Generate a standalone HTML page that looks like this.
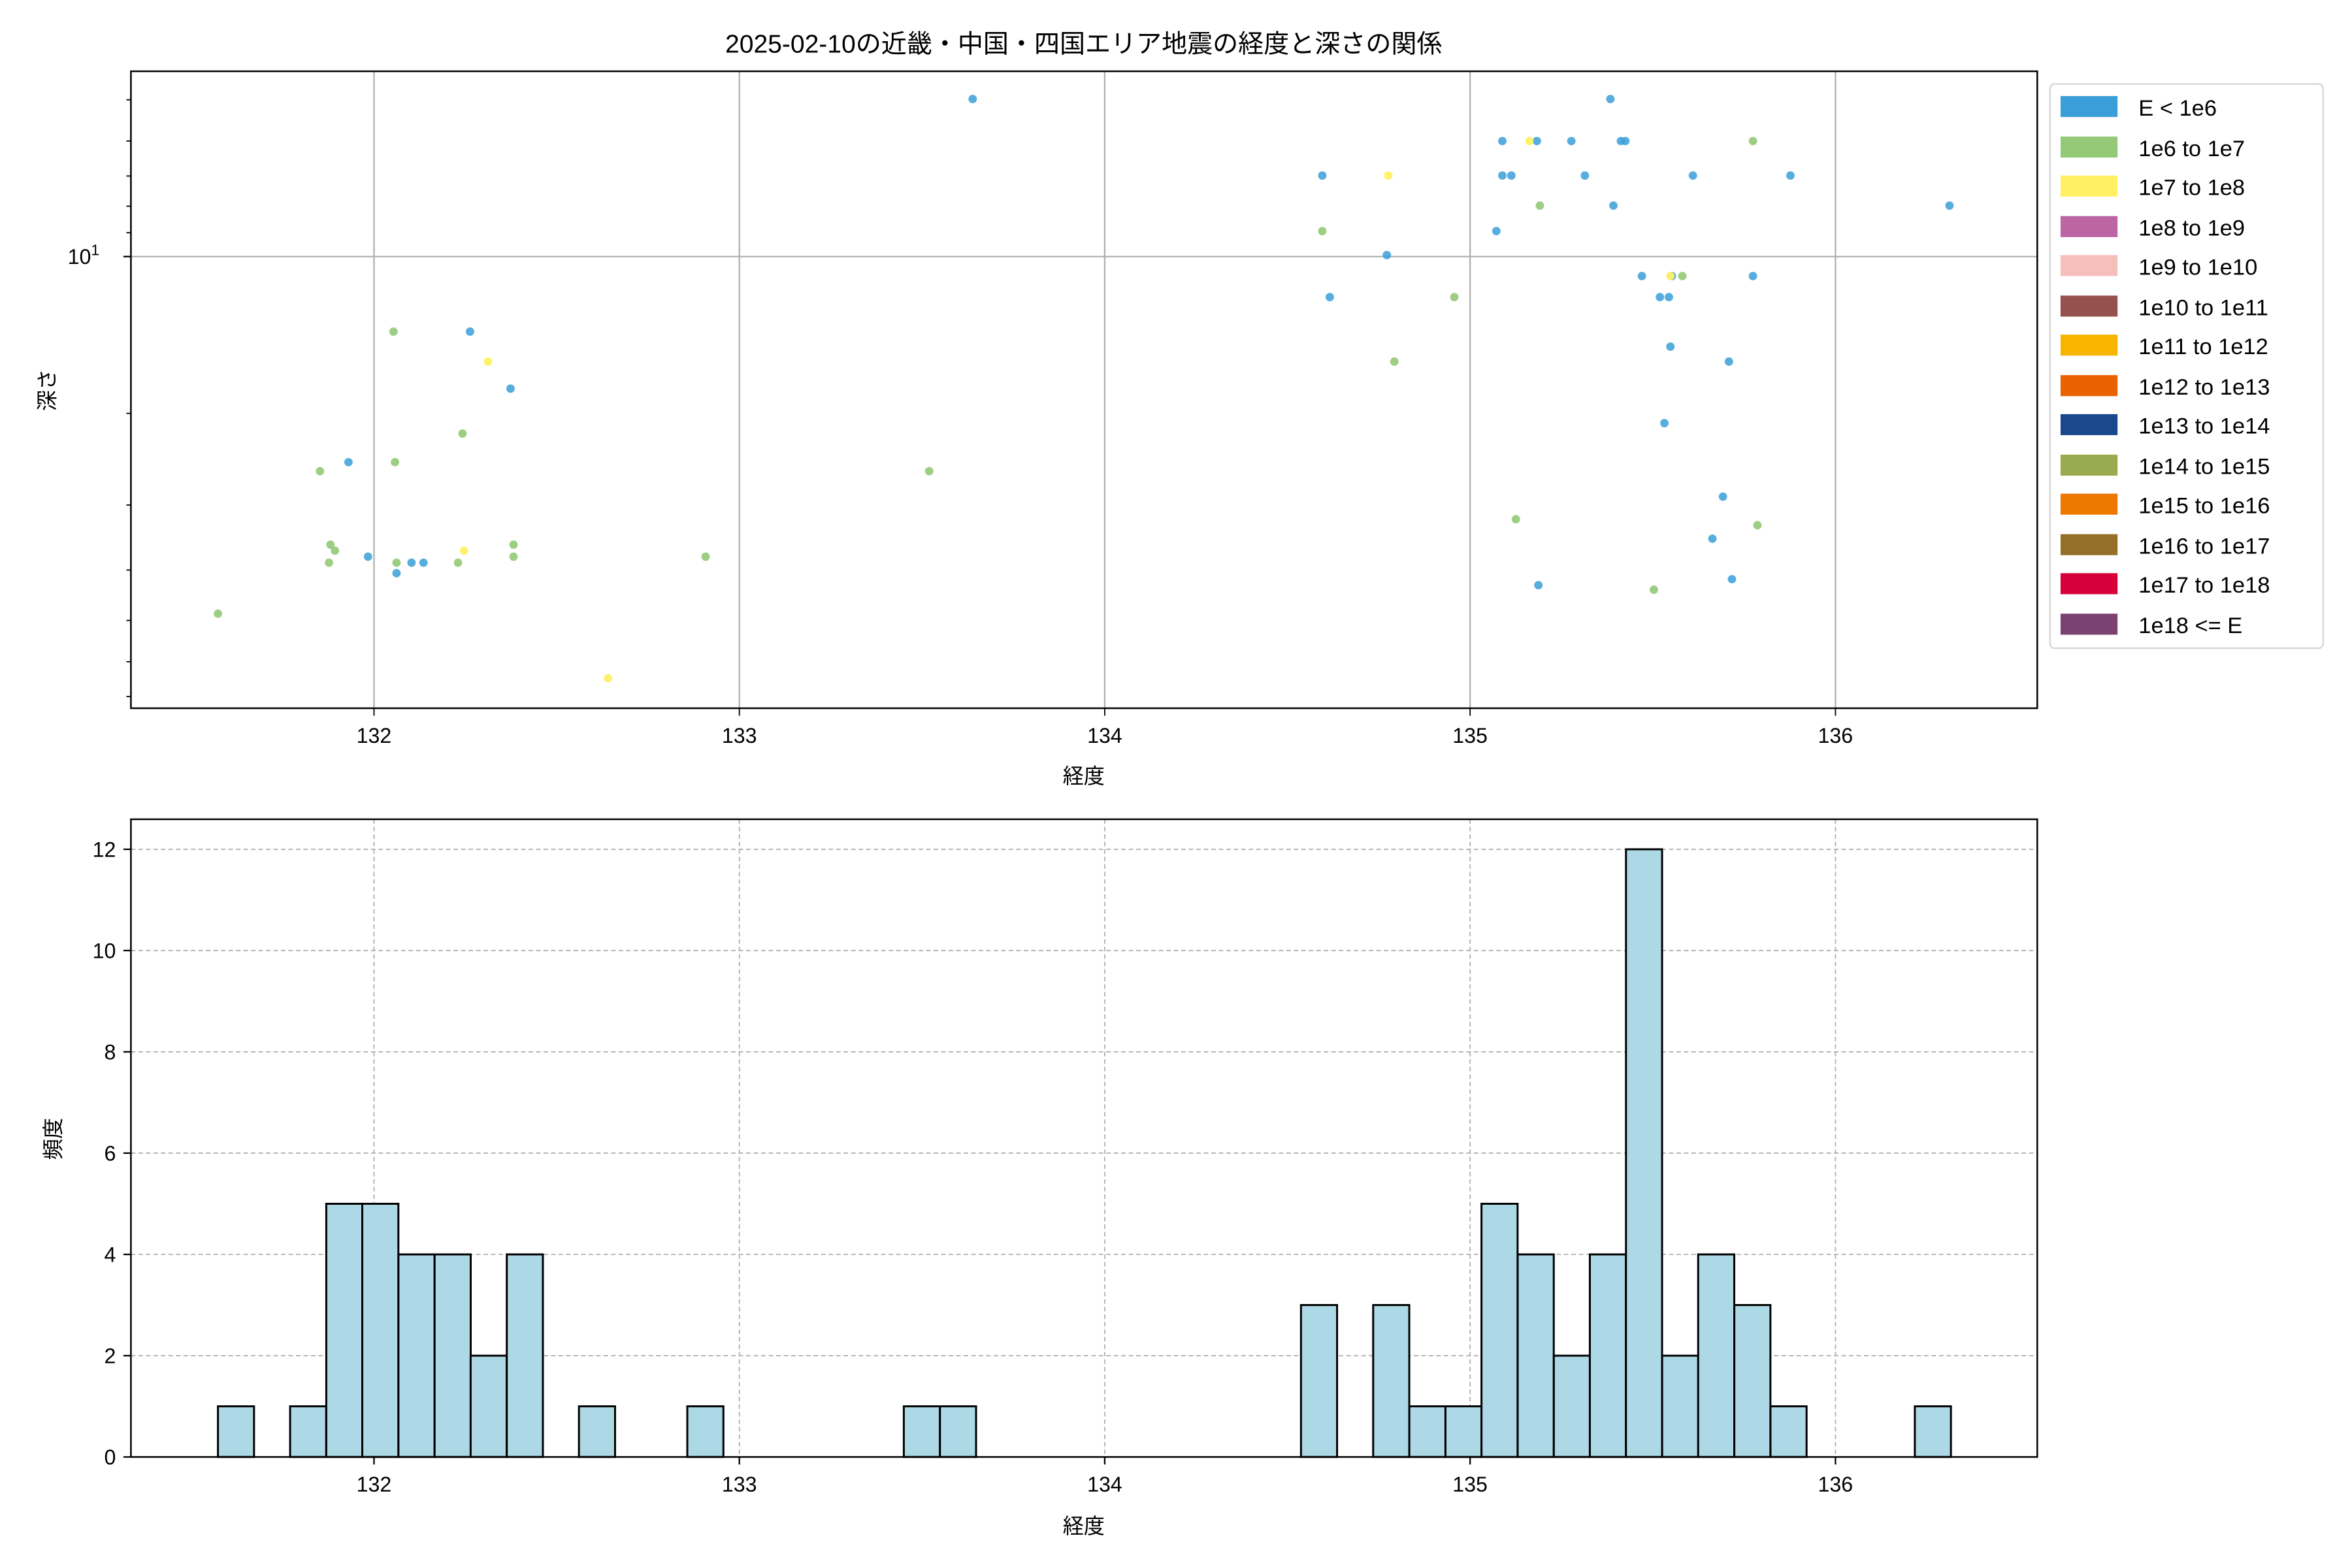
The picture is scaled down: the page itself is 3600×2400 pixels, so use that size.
<!DOCTYPE html>
<html><head><meta charset="utf-8"><style>html,body{margin:0;padding:0;background:#fff}svg{display:block}</style></head>
<body>
<svg xmlns="http://www.w3.org/2000/svg" width="3600" height="2400" viewBox="0 0 1567 1045" font-family="'Liberation Sans','Noto Sans CJK JP',sans-serif">
<rect width="1567" height="1045" fill="#fff"/>
<text x="722" y="35" font-size="17" text-anchor="middle">2025-02-10の近畿・中国・四国エリア地震の経度と深さの関係</text>
<g stroke="#b0b0b0" stroke-width="1">
<line x1="249" y1="47.5" x2="249" y2="472"/><line x1="492.5" y1="47.5" x2="492.5" y2="472"/><line x1="736" y1="47.5" x2="736" y2="472"/><line x1="979.5" y1="47.5" x2="979.5" y2="472"/><line x1="1223" y1="47.5" x2="1223" y2="472"/>
<line x1="87" y1="171" x2="1357.5" y2="171"/>
</g>
<g stroke="#000" stroke-width="0.8">
<line x1="84" y1="66.5" x2="87" y2="66.5"/><line x1="84" y1="94" x2="87" y2="94"/><line x1="84" y1="117.3" x2="87" y2="117.3"/><line x1="84" y1="137.4" x2="87" y2="137.4"/><line x1="84" y1="155.1" x2="87" y2="155.1"/>
<line x1="84" y1="275.5" x2="87" y2="275.5"/><line x1="84" y1="336.6" x2="87" y2="336.6"/><line x1="84" y1="379.9" x2="87" y2="379.9"/><line x1="84" y1="413.5" x2="87" y2="413.5"/><line x1="84" y1="441" x2="87" y2="441"/><line x1="84" y1="464.2" x2="87" y2="464.2"/>
<line x1="82" y1="171" x2="87" y2="171" stroke-width="1"/>
<line x1="249" y1="472" x2="249" y2="477"/><line x1="492.5" y1="472" x2="492.5" y2="477"/><line x1="736" y1="472" x2="736" y2="477"/><line x1="979.5" y1="472" x2="979.5" y2="477"/><line x1="1223" y1="472" x2="1223" y2="477"/>
</g>
<g fill="#3a9fd8" fill-opacity="0.85">
<circle cx="648" cy="66" r="2.8"/><circle cx="1073" cy="66" r="2.8"/><circle cx="1001" cy="94" r="2.8"/><circle cx="1024" cy="94" r="2.8"/><circle cx="1047" cy="94" r="2.8"/><circle cx="1080" cy="94" r="2.8"/><circle cx="1083" cy="94" r="2.8"/><circle cx="881" cy="117" r="2.8"/><circle cx="1001" cy="117" r="2.8"/><circle cx="1007" cy="117" r="2.8"/><circle cx="1056" cy="117" r="2.8"/><circle cx="1128" cy="117" r="2.8"/><circle cx="1193" cy="117" r="2.8"/><circle cx="1075" cy="137" r="2.8"/><circle cx="1299" cy="137" r="2.8"/><circle cx="997" cy="154" r="2.8"/><circle cx="924" cy="170" r="2.8"/><circle cx="1094" cy="184" r="2.8"/><circle cx="1114" cy="184" r="2.8"/><circle cx="1168" cy="184" r="2.8"/><circle cx="886" cy="198" r="2.8"/><circle cx="1106" cy="198" r="2.8"/><circle cx="1112" cy="198" r="2.8"/><circle cx="313" cy="221" r="2.8"/><circle cx="1113" cy="231" r="2.8"/><circle cx="1152" cy="241" r="2.8"/><circle cx="340" cy="259" r="2.8"/><circle cx="1109" cy="282" r="2.8"/><circle cx="232" cy="308" r="2.8"/><circle cx="1148" cy="331" r="2.8"/><circle cx="1141" cy="359" r="2.8"/><circle cx="245" cy="371" r="2.8"/><circle cx="274" cy="375" r="2.8"/><circle cx="282" cy="375" r="2.8"/><circle cx="264" cy="382" r="2.8"/><circle cx="1025" cy="390" r="2.8"/><circle cx="1154" cy="386" r="2.8"/>
</g>
<g fill="#93c977" fill-opacity="0.9">
<circle cx="1168" cy="94" r="2.8"/><circle cx="1026" cy="137" r="2.8"/><circle cx="881" cy="154" r="2.8"/><circle cx="1121" cy="184" r="2.8"/><circle cx="969" cy="198" r="2.8"/><circle cx="262" cy="221" r="2.8"/><circle cx="929" cy="241" r="2.8"/><circle cx="308" cy="289" r="2.8"/><circle cx="263" cy="308" r="2.8"/><circle cx="213" cy="314" r="2.8"/><circle cx="619" cy="314" r="2.8"/><circle cx="1010" cy="346" r="2.8"/><circle cx="1171" cy="350" r="2.8"/><circle cx="220" cy="363" r="2.8"/><circle cx="342" cy="363" r="2.8"/><circle cx="223" cy="367" r="2.8"/><circle cx="342" cy="371" r="2.8"/><circle cx="470" cy="371" r="2.8"/><circle cx="219" cy="375" r="2.8"/><circle cx="264" cy="375" r="2.8"/><circle cx="305" cy="375" r="2.8"/><circle cx="1102" cy="393" r="2.8"/><circle cx="145" cy="409" r="2.8"/>
</g>
<g fill="#fff064" fill-opacity="0.95">
<circle cx="1019" cy="94" r="2.8"/><circle cx="925" cy="117" r="2.8"/><circle cx="325" cy="241" r="2.8"/><circle cx="309" cy="367" r="2.8"/><circle cx="405" cy="452" r="2.8"/><circle cx="1113" cy="184" r="2.8"/>
</g>
<rect x="87" y="47.5" width="1270.5" height="424.5" fill="none" stroke="#000" stroke-width="1.1"/>
<g font-size="14" text-anchor="middle">
<text x="249" y="495">132</text><text x="492.5" y="495">133</text><text x="736" y="495">134</text><text x="979.5" y="495">135</text><text x="1223" y="495">136</text>
<text x="722" y="522">経度</text>
<text x="722" y="1022">経度</text>
</g>
<text x="66" y="176" font-size="14" text-anchor="end">10<tspan dy="-6" font-size="10">1</tspan></text>
<text transform="translate(36,260) rotate(-90)" font-size="14" text-anchor="middle">深さ</text>
<rect x="1366" y="56" width="182" height="376" rx="3" fill="#fff" stroke="#d5d5d5" stroke-width="1"/>
<g font-size="15">
<rect x="1373" y="64" width="38" height="14" fill="#3a9fd8"/><text x="1425" y="77">E &lt; 1e6</text>
<rect x="1373" y="91" width="38" height="14" fill="#93c977"/><text x="1425" y="104">1e6 to 1e7</text>
<rect x="1373" y="117" width="38" height="14" fill="#fff064"/><text x="1425" y="130">1e7 to 1e8</text>
<rect x="1373" y="144" width="38" height="14" fill="#bc64a4"/><text x="1425" y="157">1e8 to 1e9</text>
<rect x="1373" y="170" width="38" height="14" fill="#f5bfbc"/><text x="1425" y="183">1e9 to 1e10</text>
<rect x="1373" y="197" width="38" height="14" fill="#95514d"/><text x="1425" y="210">1e10 to 1e11</text>
<rect x="1373" y="223" width="38" height="14" fill="#f7b500"/><text x="1425" y="236">1e11 to 1e12</text>
<rect x="1373" y="250" width="38" height="14" fill="#ea6101"/><text x="1425" y="263">1e12 to 1e13</text>
<rect x="1373" y="276" width="38" height="14" fill="#1b478e"/><text x="1425" y="289">1e13 to 1e14</text>
<rect x="1373" y="303" width="38" height="14" fill="#9aab4f"/><text x="1425" y="316">1e14 to 1e15</text>
<rect x="1373" y="329" width="38" height="14" fill="#ee7800"/><text x="1425" y="342">1e15 to 1e16</text>
<rect x="1373" y="356" width="38" height="14" fill="#956f29"/><text x="1425" y="369">1e16 to 1e17</text>
<rect x="1373" y="382" width="38" height="14" fill="#d7003a"/><text x="1425" y="395">1e17 to 1e18</text>
<rect x="1373" y="409" width="38" height="14" fill="#7a4171"/><text x="1425" y="422">1e18 &lt;= E</text>
</g>
<g stroke="#b0b0b0" stroke-width="0.8" stroke-dasharray="3,2">
<line x1="249" y1="546" x2="249" y2="971"/><line x1="492.5" y1="546" x2="492.5" y2="971"/><line x1="736" y1="546" x2="736" y2="971"/><line x1="979.5" y1="546" x2="979.5" y2="971"/><line x1="1223" y1="546" x2="1223" y2="971"/>
<line x1="87" y1="903.5" x2="1357.5" y2="903.5"/><line x1="87" y1="836" x2="1357.5" y2="836"/><line x1="87" y1="768.5" x2="1357.5" y2="768.5"/><line x1="87" y1="701" x2="1357.5" y2="701"/><line x1="87" y1="633.5" x2="1357.5" y2="633.5"/><line x1="87" y1="566" x2="1357.5" y2="566"/>
</g>
<g fill="#add8e6" stroke="#000" stroke-width="1.3">
<rect x="145.0" y="937.25" width="24.06" height="33.75"/>
<rect x="193.1" y="937.25" width="24.06" height="33.75"/>
<rect x="217.2" y="802.25" width="24.06" height="168.75"/>
<rect x="241.2" y="802.25" width="24.06" height="168.75"/>
<rect x="265.3" y="836" width="24.06" height="135"/>
<rect x="289.4" y="836" width="24.06" height="135"/>
<rect x="313.4" y="903.5" width="24.06" height="67.5"/>
<rect x="337.5" y="836" width="24.06" height="135"/>
<rect x="385.6" y="937.25" width="24.06" height="33.75"/>
<rect x="457.8" y="937.25" width="24.06" height="33.75"/>
<rect x="602.1" y="937.25" width="24.06" height="33.75"/>
<rect x="626.2" y="937.25" width="24.06" height="33.75"/>
<rect x="866.8" y="870.5" width="24.06" height="101.25" transform="translate(0,-0.75)"/>
<rect x="914.9" y="869.75" width="24.06" height="101.25"/>
<rect x="939.0" y="937.25" width="24.06" height="33.75"/>
<rect x="963.1" y="937.25" width="24.06" height="33.75"/>
<rect x="987.1" y="802.25" width="24.06" height="168.75"/>
<rect x="1011.2" y="836" width="24.06" height="135"/>
<rect x="1035.3" y="903.5" width="24.06" height="67.5"/>
<rect x="1059.3" y="836" width="24.06" height="135"/>
<rect x="1083.4" y="566" width="24.06" height="405"/>
<rect x="1107.5" y="903.5" width="24.06" height="67.5"/>
<rect x="1131.5" y="836" width="24.06" height="135"/>
<rect x="1155.6" y="869.75" width="24.06" height="101.25"/>
<rect x="1179.7" y="937.25" width="24.06" height="33.75"/>
<rect x="1275.9" y="937.25" width="24.06" height="33.75"/>
</g>
<rect x="87" y="546" width="1270.5" height="425" fill="none" stroke="#000" stroke-width="1.1"/>
<g stroke="#000" stroke-width="1">
<line x1="249" y1="971" x2="249" y2="976"/><line x1="492.5" y1="971" x2="492.5" y2="976"/><line x1="736" y1="971" x2="736" y2="976"/><line x1="979.5" y1="971" x2="979.5" y2="976"/><line x1="1223" y1="971" x2="1223" y2="976"/>
<line x1="82" y1="971" x2="87" y2="971"/><line x1="82" y1="903.5" x2="87" y2="903.5"/><line x1="82" y1="836" x2="87" y2="836"/><line x1="82" y1="768.5" x2="87" y2="768.5"/><line x1="82" y1="701" x2="87" y2="701"/><line x1="82" y1="633.5" x2="87" y2="633.5"/><line x1="82" y1="566" x2="87" y2="566"/>
</g>
<g font-size="14" text-anchor="middle">
<text x="249" y="994">132</text><text x="492.5" y="994">133</text><text x="736" y="994">134</text><text x="979.5" y="994">135</text><text x="1223" y="994">136</text>
</g>
<g font-size="14" text-anchor="end">
<text x="77" y="976">0</text><text x="77" y="908.5">2</text><text x="77" y="841">4</text><text x="77" y="773.5">6</text><text x="77" y="706">8</text><text x="77" y="638.5">10</text><text x="77" y="571">12</text>
</g>
<text transform="translate(40,759) rotate(-90)" font-size="14" text-anchor="middle">頻度</text>
</svg>
</body></html>
